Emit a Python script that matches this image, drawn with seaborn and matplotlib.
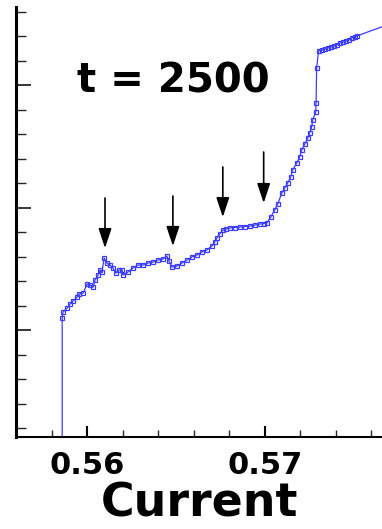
import matplotlib
matplotlib.use("Agg")
import matplotlib.pyplot as plt
from matplotlib.ticker import MultipleLocator, NullFormatter
import seaborn as sns
import pandas as pd

# I-V sweep at t = 2500
current = [
    0.5586, 0.5586, 0.55865, 0.55888, 0.55904, 0.55921, 0.55944, 0.55955,
    0.55978, 0.56000, 0.56017, 0.56034, 0.56045, 0.56062, 0.56073, 0.56084,
    0.56096, 0.56112, 0.56129, 0.56146, 0.56163, 0.56180, 0.56197, 0.56202,
    0.56230, 0.56258, 0.56287, 0.56315, 0.56343, 0.56371, 0.56399, 0.56427,
    0.56449, 0.56461, 0.56478, 0.56506, 0.56534, 0.56562, 0.56590, 0.56618,
    0.56646, 0.56674, 0.56702, 0.56719, 0.56730, 0.56747, 0.56764, 0.56781,
    0.56803, 0.56831, 0.56860, 0.56888, 0.56916, 0.56944, 0.56972, 0.56994,
    0.57011, 0.57034, 0.57056, 0.57073, 0.57096, 0.57112, 0.57129, 0.57146,
    0.57157, 0.57180, 0.57197, 0.57208, 0.57225, 0.57242, 0.57253, 0.57264,
    0.57270, 0.57287, 0.57289, 0.57292, 0.57303, 0.57320, 0.57337, 0.57354,
    0.57371, 0.57388, 0.57404, 0.57421, 0.57438, 0.57455, 0.57472, 0.57489,
    0.57506, 0.57517, 0.57758,
]
voltage = [
    -1.000, 0.098, 0.147, 0.180, 0.212, 0.237, 0.269, 0.294,
    0.302, 0.376, 0.367, 0.351, 0.408, 0.449, 0.490, 0.473,
    0.588, 0.547, 0.531, 0.506, 0.465, 0.490, 0.490, 0.449,
    0.473, 0.506, 0.531, 0.531, 0.547, 0.555, 0.571, 0.580,
    0.604, 0.563, 0.514, 0.522, 0.547, 0.571, 0.596, 0.612,
    0.637, 0.653, 0.686, 0.718, 0.751, 0.784, 0.816, 0.824,
    0.833, 0.837, 0.841, 0.845, 0.849, 0.857, 0.865, 0.869,
    0.873, 0.922, 0.980, 1.029, 1.118, 1.159, 1.200, 1.249,
    1.306, 1.363, 1.412, 1.469, 1.518, 1.567, 1.608, 1.657,
    1.714, 1.780, 1.853, 2.139, 2.278, 2.286, 2.294, 2.302,
    2.310, 2.318, 2.327, 2.343, 2.351, 2.359, 2.367, 2.384,
    2.392, 2.400, 2.527,
]

# arrows marking the step features: (current, tail, tip)
arrow_x = [0.56101, 0.56483, 0.56764, 0.56994]
arrow_tail = [1.078, 1.094, 1.331, 1.453]
arrow_tip = [0.669, 0.686, 0.922, 1.037]

x_ticks_major = [0.56, 0.57]
x_tick_labels = ["0.56", "0.57"]
title_text = "t = 2500"
x_label = "Current"

sns.set_style("ticks")
plt.rcParams["font.family"] = ["DejaVu Sans"]

fig = plt.figure(figsize=(3.82, 5.29), dpi=100)
ax = fig.add_axes([16 / 382, 92 / 529, 366 / 382, 430 / 529])

df = pd.DataFrame({"current": current, "voltage": voltage})
blue = "#3c3cff"
sns.lineplot(
    data=df, x="current", y="voltage", ax=ax,
    sort=False, estimator=None, color=blue, linewidth=0.9,
    marker="s", markersize=3.4, markerfacecolor="none",
    markeredgecolor=blue, markeredgewidth=0.9,
)

for xa, yt, yh in zip(arrow_x, arrow_tail, arrow_tip):
    ax.annotate(
        "", xy=(xa, yh), xytext=(xa, yt),
        arrowprops=dict(arrowstyle="-|>,head_length=1.2,head_width=0.4",
                        color="black", lw=1.2, shrinkA=0, shrinkB=0,
                        mutation_scale=10),
    )

ax.text(0.564831, 1.943, title_text, ha="center", va="baseline",
        fontsize=29, fontweight="bold", color="black")

ax.set_xlim(0.556, 0.5766)
ax.set_ylim(-0.873, 2.637)

ax.set_xticks(x_ticks_major)
ax.set_xticklabels(x_tick_labels)
ax.xaxis.set_minor_locator(MultipleLocator(0.002))
ax.yaxis.set_major_locator(MultipleLocator(1.0))
ax.yaxis.set_minor_locator(MultipleLocator(0.2))
ax.yaxis.set_major_formatter(NullFormatter())

ax.tick_params(axis="x", which="major", direction="in", length=8, width=1.5,
               pad=10, labelsize=22, colors="black")
ax.tick_params(axis="x", which="minor", direction="in", length=5, width=1.0)
ax.tick_params(axis="y", which="major", direction="in", length=11, width=1.3,
               labelleft=False)
ax.tick_params(axis="y", which="minor", direction="in", length=7, width=1.0)
for lab in ax.get_xticklabels():
    lab.set_fontweight("bold")

ax.set_xlabel(x_label, fontsize=33, fontweight="bold", labelpad=1,
              color="black")
ax.set_ylabel("")

sns.despine(ax=ax)
ax.spines["left"].set_linewidth(2.2)
ax.spines["bottom"].set_linewidth(1.5)
ax.spines["left"].set_color("black")
ax.spines["bottom"].set_color("black")

fig.savefig("out.png", dpi=100)
